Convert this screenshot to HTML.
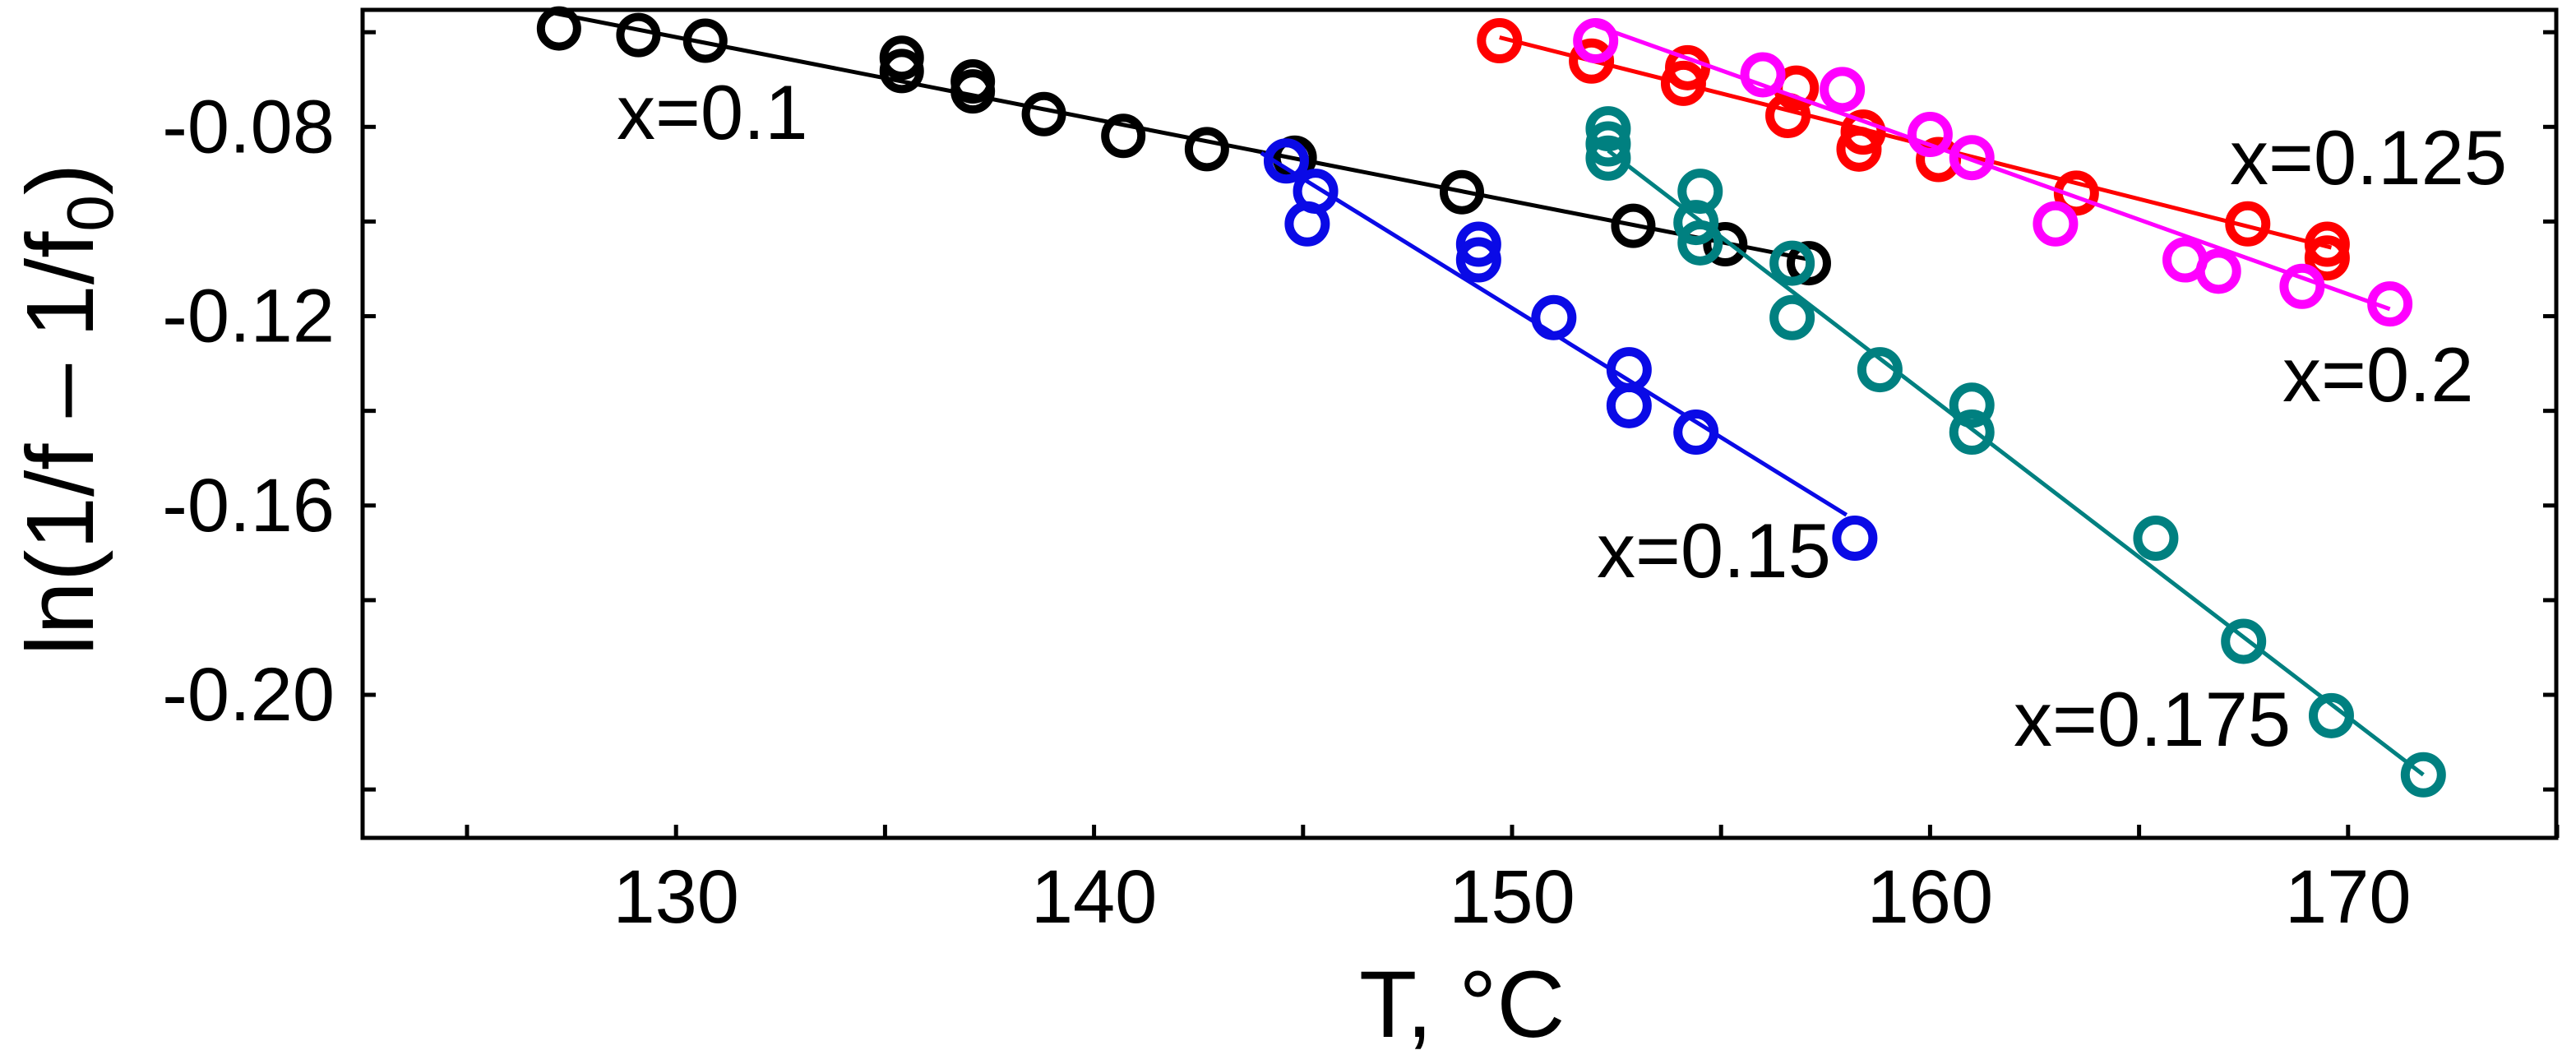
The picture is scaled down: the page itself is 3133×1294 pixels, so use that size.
<!DOCTYPE html>
<html><head><meta charset="utf-8"><style>
html,body{margin:0;padding:0;background:#fff;}
svg{display:block;}
text{font-family:"Liberation Sans",Arial,sans-serif;fill:#000;}
</style></head><body>
<svg id="chart" width="3133" height="1294" viewBox="0 0 3133 1294" xmlns="http://www.w3.org/2000/svg">
<g id="axes"></g>
<g id="plot"></g>
<text transform="translate(113,498) rotate(-90)" text-anchor="middle" font-size="116">ln(1/f – 1/f<tspan font-size="80" dy="24">0</tspan><tspan dy="-24">)</tspan></text>
<text x="1653" y="1261" font-size="115">T, °C</text>
<text x="750" y="169" font-size="94">x=0.1</text>
<text x="2712" y="224" font-size="94">x=0.125</text>
<text x="2776" y="488" font-size="94">x=0.2</text>
<text x="1942" y="702" font-size="94">x=0.15</text>
<text x="2449" y="907" font-size="94">x=0.175</text>
</svg>
<script>
// Data
const xTicks = [125,130,135,140,145,150,155,160,165,170,175];
const xTickLabels = ["","130","","140","","150","","160","","170",""];
const yTicks = [-0.06,-0.08,-0.10,-0.12,-0.14,-0.16,-0.18,-0.20,-0.22];
const yTickLabels = ["","-0.08","","-0.12","","-0.16","","-0.20",""];

const blackT = [127.2,129.1,130.7,135.4,135.4,137.1,137.1,138.8,140.7,142.7,144.8,148.8,152.9,155.1,157.1];
const blackV = [-0.0592,-0.0606,-0.0618,-0.0654,-0.0682,-0.0704,-0.0725,-0.0773,-0.0819,-0.0847,-0.0865,-0.0938,-0.1009,-0.1048,-0.1088];
const blackFit = [[127.1,-0.056],[157.1,-0.108]];

const blueT = [144.6,145.3,145.1,149.2,149.2,151.0,152.8,152.8,154.4,158.2];
const blueV = [-0.0872,-0.0936,-0.1005,-0.1048,-0.1081,-0.1203,-0.1313,-0.1389,-0.1445,-0.1669];
const blueFit = [[144.0,-0.0855],[158.0,-0.162]];

const tealT = [152.3,152.3,152.3,154.5,154.4,154.5,156.7,156.7,158.8,161.0,161.0,165.4,167.5,169.6,171.8];
const tealV = [-0.0804,-0.0836,-0.0866,-0.0936,-0.1002,-0.1045,-0.1088,-0.1203,-0.1313,-0.1388,-0.1445,-0.1669,-0.1887,-0.2044,-0.2169];
const tealFit = [[152.3,-0.085],[171.8,-0.2169]];

const redT = [149.7,151.9,154.2,154.1,156.8,156.6,158.4,158.3,160.2,163.5,167.6,169.5,169.5];
const redV = [-0.0618,-0.0661,-0.0675,-0.0708,-0.0718,-0.0776,-0.0811,-0.0847,-0.0869,-0.094,-0.1005,-0.1048,-0.1077];
const redFit = [[149.7,-0.0611],[169.6,-0.1055]];

const magT = [152.0,156.0,157.9,160.0,161.0,163.0,166.1,166.9,168.9,171.0];
const magV = [-0.0618,-0.069,-0.0721,-0.0816,-0.0865,-0.1005,-0.1081,-0.1105,-0.1137,-0.1174];
const magFit = [[152.0,-0.0586],[171.0,-0.1185]];

const NS = "http://www.w3.org/2000/svg";
const L = 441, R = 3109, T0 = 12, B = 1019;
function X(t){ return 568 + (t - 125) * 50.84; }
function Y(v){ return 154.3 + (-0.08 - v) * 5756; }
function mk(tag, attrs, parent){
  const e = document.createElementNS(NS, tag);
  for (const k in attrs) e.setAttribute(k, attrs[k]);
  parent.appendChild(e);
  return e;
}
const axes = document.getElementById('axes');
const plot = document.getElementById('plot');

const frame = mk('rect', {x:L, y:T0, width:R-L, height:B-T0, fill:'none', stroke:'#000', 'stroke-width':5}, axes);



xTicks.forEach((t, i) => {
  const tk = mk('line', {x1:X(t), x2:X(t), y1:B, y2:B-16, stroke:'#000', 'stroke-width':5}, axes);
  
  
  if (xTickLabels[i]) {
    const tx = mk('text', {x:X(t), y:1122, 'text-anchor':'middle', 'font-size':92}, axes);
    tx.textContent = xTickLabels[i];
    
    
  }
});
yTicks.forEach((v, i) => {
  const tk = mk('line', {x1:L, x2:L+16, y1:Y(v), y2:Y(v), stroke:'#000', 'stroke-width':5}, axes);
  
  
  const tk2 = mk('line', {x1:R, x2:R-16, y1:Y(v), y2:Y(v), stroke:'#000', 'stroke-width':5}, axes);
  
  
  if (yTickLabels[i]) {
    const tx = mk('text', {x:407, y:Y(v)+31, 'text-anchor':'end', 'font-size':92}, axes);
    tx.textContent = yTickLabels[i];
    
    
  }
});

function series(name, color, ts, vs, fit, sw){
  const g = mk('g', {}, plot);
  
  
  const ln = mk('line', {x1:X(fit[0][0]), y1:Y(fit[0][1]), x2:X(fit[1][0]), y2:Y(fit[1][1]), stroke:color, 'stroke-width':5}, g);
  
  
  ts.forEach((t, i) => {
    const c = mk('circle', {cx:X(t), cy:Y(vs[i]), r:22, fill:'none', stroke:color, 'stroke-width':sw}, g);
    
    
  });
}
series('x0.1', '#000000', blackT, blackV, blackFit, 10);
series('x0.15', '#0a0ae6', blueT, blueV, blueFit, 11);
series('x0.175', '#008080', tealT, tealV, tealFit, 11);
series('x0.125', '#ff0000', redT, redV, redFit, 11);
series('x0.2', '#ff00ff', magT, magV, magFit, 11);
</script>
</body></html>
